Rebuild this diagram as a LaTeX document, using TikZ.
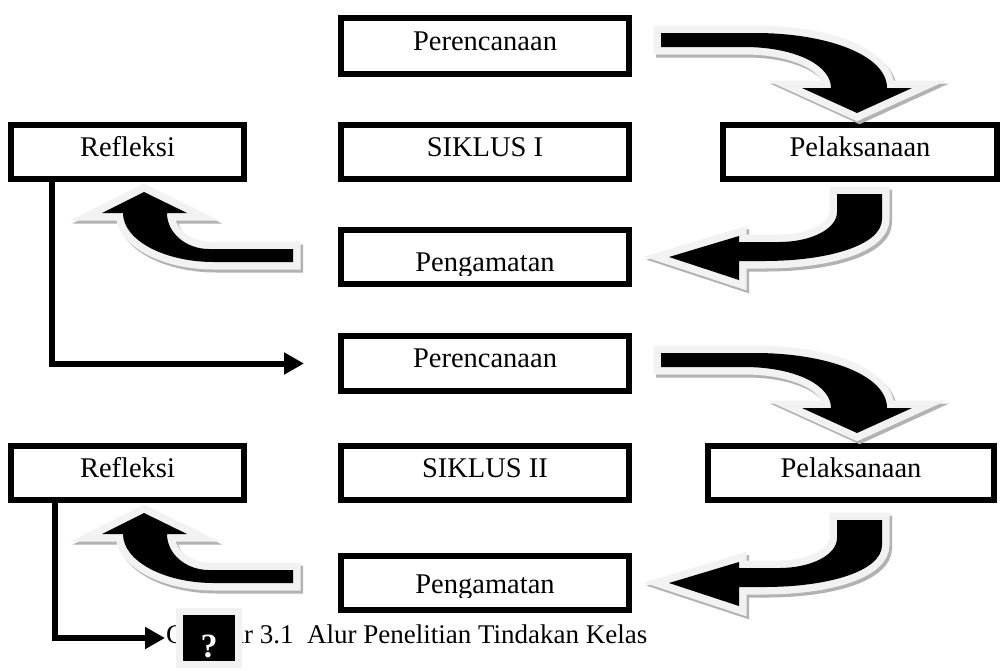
\documentclass[tikz,border=0pt]{standalone}
\usepackage{fontspec}
\setmainfont{Liberation Serif}
\usetikzlibrary{arrows.meta,calc}
\newcommand\boxfont{\fontsize{28.5pt}{30pt}\selectfont}
\newcommand\capfont{\fontsize{27pt}{29pt}\selectfont}
\newcommand\qfont{\fontsize{34pt}{36pt}\selectfont\bfseries}
\newcommand\shapeA{(-196,-80) -- (-102,-80) .. controls (-30,-80) and (30,-58) .. (30,-25) -- (55,-25) -- (0,0) -- (-55,-25) -- (-26,-25) .. controls (-26,-48) and (-62,-66) .. (-113,-66) -- (-196,-66) -- cycle}
\newcommand\shapeB{(168,-63) -- (213,-63) -- (213,-38) .. controls (213,-12) and (160,4) .. (95,4) -- (70,4) -- (70,23) -- (0,0) -- (70,-21) -- (70,-15) -- (110,-15) .. controls (142,-15) and (168,-28) .. (168,-45) -- cycle}
\newcommand\shapeC{(-21,21) -- (-42,21) -- (0,0) -- (43,21) -- (23,21) .. controls (23,41) and (42,57) .. (65,57) -- (149,57) -- (149,70) -- (70,70) .. controls (20,70) and (-21,48) .. (-21,21) -- cycle}
\newcommand\blockarrow[2]{%
  \begin{scope}[#1]
    \draw[bashadow] #2;
    \draw[baedge] #2;
    \fill[black] #2;
  \end{scope}}
\begin{document}
\begin{tikzpicture}[x=1pt,y=-1pt,
  box/.style={draw=black,line width=6pt,fill=white,inner sep=0pt,font=\boxfont,text height=1em,text depth=0.17em},
  lbl/.style={inner sep=0pt,font=\boxfont},
  conn/.style={line width=6pt,-{Triangle[length=20pt,width=21pt]}},
  bashadow/.style={shift={(2.5,3)},draw=black!30,fill=black!30,line width=15pt,line join=miter},
  baedge/.style={draw=gray!10,fill=gray!10,line width=15pt,line join=miter},
  qbox/.style={fill=black,draw=gray!10,line width=7pt,text=white,font=\qfont,minimum width=59pt,minimum height=53pt,inner sep=0pt,text height=38pt,text depth=0pt}]
\useasboundingbox (0,0) rectangle (1003,670);
\fill[white] (0,0) rectangle (1003,670);
% cycle I
\node[box,minimum width=288pt,minimum height=56pt] (p1) at (485,46) {Perencanaan};
\node[box,minimum width=233pt,minimum height=54pt] (r1) at (127.5,152) {Refleksi};
\node[box,minimum width=288pt,minimum height=54pt] (s1) at (485,152) {SIKLUS I};
\node[box,minimum width=274pt,minimum height=54pt] (l1) at (860,152) {Pelaksanaan};
\node[box,minimum width=288pt,minimum height=54pt] (g1) at (485,257) {};
\begin{scope}
  \clip (341,230) rectangle (629,275);
  \node[lbl,anchor=base] (g1t) at (485,271) {Pengamatan};
\end{scope}
% cycle II
\node[box,minimum width=288pt,minimum height=55pt] (p2) at (485,363.5) {Perencanaan};
\node[box,minimum width=233pt,minimum height=54pt] (r2) at (127.5,473) {Refleksi};
\node[box,minimum width=288pt,minimum height=54pt] (s2) at (485,473) {SIKLUS II};
\node[box,minimum width=286pt,minimum height=54pt] (l2) at (851,473) {Pelaksanaan};
\node[box,minimum width=288pt,minimum height=54pt] (g2) at (485,583) {};
\begin{scope}
  \clip (341,556) rectangle (629,597);
  \node[lbl,anchor=base] (g2t) at (485,593) {Pengamatan};
\end{scope}
% block arrows
\blockarrow{shift={($(l1.north)+(-3,-9)$)}}{\shapeA}
\blockarrow{shift={($(g1.east)+(37,0)$)}}{\shapeB}
\blockarrow{shift={($(r1.south)+(16.5,10)$)}}{\shapeC}
\blockarrow{shift={($(l2.north)+(6,-10)$)}}{\shapeA}
\blockarrow{shift={($(g2.east)+(37,0)$)}}{\shapeB}
\blockarrow{shift={($(r2.south)+(16.5,10)$)}}{\shapeC}
% caption and placeholder
\node[anchor=base west,inner sep=0pt,font=\capfont] (cap) at (166,643) {Gambar 3.1\ \ Alur Penelitian Tindakan Kelas};
\node[qbox] (q) at (209,638) {?};
% connectors
\draw[conn] ([xshift=44pt]r1.south west) |- ([xshift=-34pt]p2.west);
\draw[conn] ([xshift=47pt]r2.south west) |- ([xshift=-11pt]q.west);
\end{tikzpicture}
\end{document}
